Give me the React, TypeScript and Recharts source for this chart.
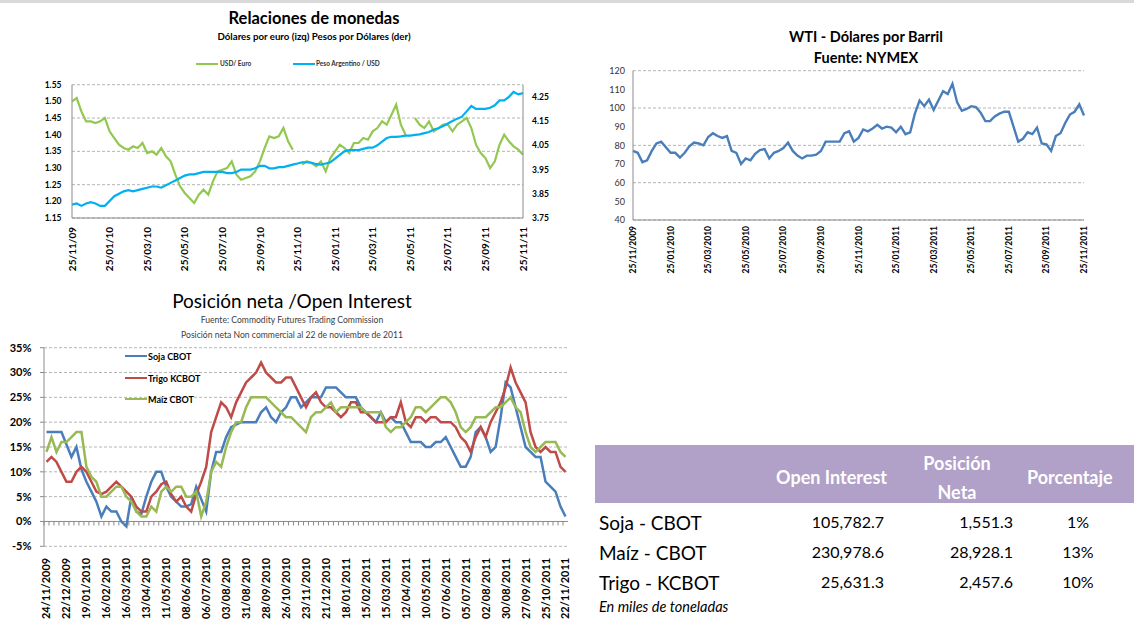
import React from "react";
import {
  LineChart,
  ComposedChart,
  Line,
  Scatter,
  XAxis,
  YAxis,
  CartesianGrid,
  ReferenceLine,
} from "recharts";

const FONT = "Lato, 'Liberation Sans', sans-serif";

// Relaciones de monedas: 4 readings per month, 25/11/09 .. 25/11/11
const fxMonthLabels = [
  "25/11/09", "25/01/10", "25/03/10", "25/05/10", "25/07/10", "25/09/10", "25/11/10",
  "25/01/11", "25/03/11", "25/05/11", "25/07/11", "25/09/11", "25/11/11",
];
const usdEuro = [
  1.5, 1.51, 1.47, 1.44, 1.44, 1.435, 1.44, 1.45, 1.41, 1.39,
  1.37, 1.36, 1.355, 1.365, 1.36, 1.375, 1.345, 1.35, 1.34, 1.36,
  1.335, 1.32, 1.28, 1.245, 1.225, 1.21, 1.195, 1.22, 1.235, 1.22,
  1.26, 1.29, 1.295, 1.3, 1.32, 1.28, 1.265, 1.27, 1.275, 1.29,
  1.32, 1.36, 1.395, 1.39, 1.395, 1.42, 1.38, 1.355, null, 1.31,
  1.32, 1.315, 1.305, 1.32, 1.29, 1.33, 1.35, 1.37, 1.36, 1.345,
  1.375, 1.375, 1.39, 1.385, 1.41, 1.42, 1.44, 1.43, 1.46, 1.49,
  1.43, 1.4, null, 1.45, 1.43, 1.42, 1.44, 1.41, 1.42, 1.43,
  1.43, 1.41, 1.43, 1.44, 1.45, 1.42, 1.37, 1.345, 1.33, 1.3,
  1.32, 1.37, 1.4, 1.38, 1.365, 1.355, 1.34,
];
const pesoUsd = [
  3.805, 3.81, 3.8, 3.81, 3.815, 3.81, 3.8, 3.8, 3.82, 3.84,
  3.85, 3.86, 3.865, 3.86, 3.865, 3.87, 3.875, 3.88, 3.88, 3.875,
  3.885, 3.895, 3.905, 3.915, 3.925, 3.93, 3.93, 3.935, 3.94, 3.94,
  3.94, 3.94, 3.94, 3.935, 3.935, 3.94, 3.95, 3.95, 3.95, 3.955,
  3.965, 3.965, 3.955, 3.955, 3.96, 3.96, 3.965, 3.97, 3.975, 3.98,
  3.98, 3.978, 3.972, 3.97, 3.975, 3.98, 3.995, 4.01, 4.025, 4.03,
  4.03, 4.03, 4.035, 4.04, 4.04, 4.05, 4.065, 4.08, 4.085, 4.085,
  4.087, 4.09, 4.09, 4.093, 4.095, 4.1, 4.105, 4.115, 4.12, 4.13,
  4.14, 4.15, 4.16, 4.168, 4.19, 4.212, 4.2, 4.2, 4.2, 4.205,
  4.215, 4.235, 4.235, 4.25, 4.27, 4.26, 4.265,
];
const euroTicks = [1.15, 1.2, 1.25, 1.3, 1.35, 1.4, 1.45, 1.5, 1.55];
const pesoTicks = [3.75, 3.85, 3.95, 4.05, 4.15, 4.25];

// WTI
const wtiMonthLabels = [
  "25/11/2009", "25/01/2010", "25/03/2010", "25/05/2010", "25/07/2010", "25/09/2010", "25/11/2010",
  "25/01/2011", "25/03/2011", "25/05/2011", "25/07/2011", "25/09/2011", "25/11/2011",
];
const wti = [
  77, 76, 71, 72, 77, 81, 82, 79, 76, 76,
  73.5, 76, 79.5, 81.5, 81, 80, 84.5, 86.5, 85, 84,
  85, 77, 76, 70, 73, 72, 75.5, 77.5, 78, 73,
  76, 77, 78.5, 81.5, 77, 74.5, 73, 74.5, 74.5, 75,
  77, 82, 82, 82, 82, 86.5, 87.5, 82, 84, 88.5,
  87.5, 89, 91, 89, 90, 89.5, 87, 90, 86, 87,
  97, 104, 101, 104.5, 99, 104, 109, 107.5, 113, 103,
  98.5, 99.5, 101, 100.5, 97.5, 93, 93, 95.5, 97, 98,
  98, 90, 82, 83.5, 87, 86, 89.5, 81, 80.5, 77,
  85, 86.5, 92, 96.5, 98, 102, 96,
];
const wtiTicks = [40, 50, 60, 70, 80, 90, 100, 110, 120];

// Posición neta / Open Interest (weekly)
const cftcWeekLabels = [
  "24/11/2009", "22/12/2009", "19/01/2010", "16/02/2010", "16/03/2010", "13/04/2010", "11/05/2010",
  "08/06/2010", "06/07/2010", "03/08/2010", "31/08/2010", "28/09/2010", "26/10/2010", "23/11/2010",
  "21/12/2010", "18/01/2011", "15/02/2011", "15/03/2011", "12/04/2011", "10/05/2011", "07/06/2011",
  "05/07/2011", "02/08/2011", "30/08/2011", "27/09/2011", "25/10/2011", "22/11/2011",
];
const sojaCbot = [
  18, 18, 18, 18, 15.5, 13, 15, 10.5, 8, 6,
  4, 1, 3, 2, 2, 0, -1, 5, 2, 1.5,
  5, 8, 10, 10, 7, 5, 4, 3, 3, 3.5,
  7, 4.5, 2, 10, 14, 14, 17, 19, 19.5, 20,
  20, 20, 20, 22, 23, 21, 20, 22, 23, 25,
  25, 23, 24, 25, 25, 25, 27, 27, 27, 26,
  25, 25, 25, 23, 22, 21, 20, 22, 20, 21,
  20, 20, 18, 16, 16, 16, 15, 15, 16, 16,
  17, 15, 13, 11, 11, 13, 18, 19, 17, 14,
  15, 21, 28, 27, 23, 19, 15, 14, 13, 13,
  8, 7, 6, 3, 1,
];
const trigoKcbot = [
  12, 13, 12, 10, 8, 8, 10, 11, 10, 8,
  6, 5.5, 6, 7, 8, 7, 6, 5, 3, 2,
  2, 5, 6, 7.5, 8, 5.5, 4, 5, 3, 2,
  5.5, 8, 11, 18, 21, 24, 23, 21, 24, 26,
  28, 29, 30, 32, 30, 29, 28, 28, 29, 29,
  27, 25, 23, 25, 26, 24, 23, 23, 22, 21,
  22, 24, 24, 22, 22, 21, 20, 20, 20, 21,
  21, 24, 20, 19, 21, 21, 20, 21, 21, 20,
  20, 20, 19, 17, 16, 14, 17, 19, 17, 20,
  22, 24, 27, 31, 28, 26, 24, 18, 15, 14,
  15, 14, 14, 11, 10,
];
const maizCbot = [
  14, 17, 14, 16, 16, 17, 18, 18, 11, 9,
  8, 5, 5, 6, 7, 7, 5, 4, 2, 1,
  1, 3, 2, 6, 7, 6, 7, 7, 5, 5,
  6, 1, 4, 10, 12, 11, 15, 18, 20, 20,
  23, 25, 25, 25, 25, 24, 23, 22, 21, 21,
  20, 19, 18, 21, 22, 22, 23, 24, 22, 23,
  23, 23, 23, 23, 22, 22, 22, 22, 19, 18,
  19, 19, 20, 21, 23, 23, 22, 23, 24, 25,
  25, 24, 22, 19, 18, 19, 21, 21, 21, 22,
  23, 23, 24, 25, 23, 22, 18, 15, 14, 15,
  16, 16, 16, 14, 13,
];
const pctTicks = [-5, 0, 5, 10, 15, 20, 25, 30, 35];

// Table
const tableNames = ["Soja - CBOT", "Maíz - CBOT", "Trigo - KCBOT"];
const openInterest = ["105,782.7", "230,978.6", "25,631.3"];
const netPosition = ["1,551.3", "28,928.1", "2,457.6"];
const percentage = ["1%", "13%", "10%"];

const fxData = usdEuro.map((eur, i) => ({ i, eur, ars: pesoUsd[i] }));
const wtiData = wti.map((price, i) => ({ i, price }));
const cftcData = sojaCbot.map((soja, i) => ({ i, soja, trigo: trigoKcbot[i], maiz: maizCbot[i] }));
const weekMarks = sojaCbot.map((_, i) => ({ i: i - 0.5, zero: 0 }));
const monthTicks = fxMonthLabels.map((_, k) => k * 8);
const weekTicks = cftcWeekLabels.map((_, k) => k * 4);

function rotatedTick(labels: string[], step: number, fontSize: number) {
  return (props: any) => {
    const { x, y, payload } = props;
    const label = labels[Math.round(payload.value / step)];
    return (
      <g transform={`translate(${x},${y})`}>
        <text
          transform="rotate(-90)"
          x={0}
          y={0}
          dy="0.36em"
          textAnchor="end"
          fontSize={fontSize}
          fontWeight={700}
          fontFamily={FONT}
          fill="#000"
        >
          {label}
        </text>
      </g>
    );
  };
}

function Txt({ x, y, w, size, align = "left", weight = 400, color = "#000", italic = false, children }: any) {
  return (
    <div
      style={{
        position: "absolute",
        left: x,
        top: y - size / 2,
        width: w,
        textAlign: align,
        fontSize: size,
        lineHeight: `${size}px`,
        fontWeight: weight,
        color,
        fontStyle: italic ? "italic" : "normal",
        whiteSpace: "nowrap",
      }}
    >
      {children}
    </div>
  );
}

function LegendLine({ x, y, color }: any) {
  return <div style={{ position: "absolute", left: x, top: y - 1.25, width: 22, height: 2.5, background: color }} />;
}

const GRID = "#b5b5b5";
const AXIS = "#8c8c8c";

export default function App() {
  return (
    <div
      style={{
        position: "absolute",
        left: 0,
        top: 0,
        width: 1134,
        height: 621,
        overflow: "hidden",
        background: "#fff",
        fontFamily: FONT,
      }}
    >
      <div style={{ position: "absolute", left: 0, top: 0, width: 1134, height: 3, background: "#d9d9d9" }} />

      {/* Relaciones de monedas */}
      <Txt x={0} y={18.5} w={628} size={16.5} align="center" weight={700}>Relaciones de monedas</Txt>
      <Txt x={0} y={37} w={628} size={9.7} align="center" weight={700}>
        Dólares por euro (izq) Pesos por Dólares (der)
      </Txt>
      <LegendLine x={196} y={64} color="#92C850" />
      <Txt x={220} y={64} w={60} size={6.5} weight={700} color="#333">USD/ Euro</Txt>
      <LegendLine x={293} y={64} color="#00B0F0" />
      <Txt x={316} y={64} w={90} size={6.5} weight={700} color="#333">Peso Argentino / USD</Txt>
      <div style={{ position: "absolute", left: 0, top: 70 }}>
        <LineChart width={580} height={210} data={fxData} margin={{ top: 14.7, right: 7, bottom: 2, left: 0 }}>
          <CartesianGrid vertical={false} stroke={GRID} strokeDasharray="3 2" />
          <XAxis
            type="number"
            dataKey="i"
            domain={[0, 96]}
            ticks={monthTicks}
            interval={0}
            height={60}
            tickSize={6}
            tickMargin={3}
            tickLine={false}
            axisLine={{ stroke: AXIS }}
            tick={rotatedTick(fxMonthLabels, 8, 10)}
          />
          <YAxis
            domain={[1.15, 1.55]}
            ticks={euroTicks}
            width={72}
            tickSize={6}
            tickMargin={4.5}
            tickLine={false}
            axisLine={{ stroke: AXIS }}
            tickFormatter={(v: number) => v.toFixed(2)}
            tick={{ fontSize: 8.5, fontWeight: 700, fill: "#000", fontFamily: FONT }}
          />
          <YAxis
            yAxisId="right"
            orientation="right"
            domain={[3.75, 4.3]}
            ticks={pesoTicks}
            width={50}
            tickSize={6}
            tickMargin={3}
            tickLine={false}
            axisLine={{ stroke: AXIS }}
            tickFormatter={(v: number) => v.toFixed(2)}
            tick={{ fontSize: 8.5, fontWeight: 700, fill: "#000", fontFamily: FONT }}
          />
          <Line dataKey="eur" stroke="#92C850" strokeWidth={2.2} dot={false} isAnimationActive={false} />
          <Line yAxisId="right" dataKey="ars" stroke="#00B0F0" strokeWidth={2.2} dot={false} isAnimationActive={false} />
        </LineChart>
      </div>

      {/* WTI */}
      <Txt x={766} y={37.5} w={200} size={14.5} align="center" weight={700}>WTI - Dólares por Barril</Txt>
      <Txt x={766} y={58.5} w={200} size={14.5} align="center" weight={700}>Fuente: NYMEX</Txt>
      <div style={{ position: "absolute", left: 590, top: 60 }}>
        <LineChart width={544} height={225} data={wtiData} margin={{ top: 10.7, right: 50, bottom: 0, left: 0 }}>
          <CartesianGrid vertical={false} stroke={GRID} strokeDasharray="3 2" />
          <XAxis
            type="number"
            dataKey="i"
            domain={[0, 96]}
            ticks={monthTicks}
            interval={0}
            height={65}
            tickSize={4}
            tickMargin={2}
            tickLine={false}
            axisLine={{ stroke: AXIS }}
            tick={rotatedTick(wtiMonthLabels, 8, 8.5)}
          />
          <YAxis
            domain={[40, 120]}
            ticks={wtiTicks}
            width={43}
            tickSize={6}
            tickMargin={2}
            tickLine={false}
            axisLine={{ stroke: AXIS }}
            tick={{ fontSize: 9, fill: "#333", fontFamily: FONT }}
          />
          <Line dataKey="price" stroke="#4A7EBB" strokeWidth={2.4} dot={false} isAnimationActive={false} />
        </LineChart>
      </div>

      {/* Posición neta / Open Interest */}
      <Txt x={92} y={300} w={400} size={19} align="center">Posición neta /Open Interest</Txt>
      <Txt x={92} y={320.5} w={400} size={8.6} align="center" color="#404040">
        Fuente: Commodity Futures Trading Commission
      </Txt>
      <Txt x={92} y={335.5} w={400} size={8.6} align="center" color="#404040">
        Posición neta Non commercial al 22 de noviembre de 2011
      </Txt>
      <div style={{ position: "absolute", left: 0, top: 340 }}>
        <ComposedChart width={580} height={281} data={cftcData} margin={{ top: 7.7, right: 12, bottom: 0, left: 0 }}>
          <CartesianGrid vertical={false} stroke={GRID} strokeDasharray="3 2" />
          <XAxis
            type="number"
            dataKey="i"
            domain={[-0.5, 104.5]}
            ticks={weekTicks}
            interval={0}
            height={74.7}
            tickSize={8}
            tickMargin={3.5}
            tickLine={false}
            axisLine={false}
            tick={rotatedTick(cftcWeekLabels, 4, 11)}
          />
          <YAxis
            domain={[-5, 35]}
            ticks={pctTicks}
            width={44}
            tickSize={4}
            tickMargin={8.5}
            tickLine={{ stroke: AXIS }}
            axisLine={{ stroke: AXIS }}
            tickFormatter={(v: number) => `${v}%`}
            tick={{ fontSize: 11, fontWeight: 700, fill: "#000", fontFamily: FONT }}
          />
          <ReferenceLine y={0} stroke={AXIS} />
          <Scatter
            data={weekMarks}
            dataKey="zero"
            isAnimationActive={false}
            shape={(p: any) => <line x1={p.cx} x2={p.cx} y1={p.cy} y2={p.cy + 4} stroke={AXIS} strokeWidth={1} />}
          />
          <Line dataKey="soja" stroke="#4A7EBB" strokeWidth={2.5} dot={false} isAnimationActive={false} />
          <Line dataKey="trigo" stroke="#BE4B48" strokeWidth={2.5} dot={false} isAnimationActive={false} />
          <Line dataKey="maiz" stroke="#98B954" strokeWidth={2.5} dot={false} isAnimationActive={false} />
        </ComposedChart>
      </div>
      <LegendLine x={125} y={356} color="#4A7EBB" />
      <Txt x={148} y={356} w={80} size={9} weight={700}>Soja CBOT</Txt>
      <LegendLine x={125} y={378} color="#BE4B48" />
      <Txt x={148} y={378} w={80} size={9} weight={700}>Trigo KCBOT</Txt>
      <LegendLine x={125} y={399} color="#98B954" />
      <Txt x={148} y={399} w={80} size={9} weight={700}>Maíz CBOT</Txt>

      {/* Tabla */}
      <div style={{ position: "absolute", left: 595, top: 445, width: 539, height: 58, background: "#B1A0C7" }} />
      <Txt x={717} y={477} w={170} size={18} align="right" weight={700} color="#fff">Open Interest</Txt>
      <Txt x={897} y={463} w={120} size={18} align="center" weight={700} color="#fff">Posición</Txt>
      <Txt x={897} y={492} w={120} size={18} align="center" weight={700} color="#fff">Neta</Txt>
      <Txt x={1027} y={477} w={120} size={18} weight={700} color="#fff">Porcentaje</Txt>
      {tableNames.map((name, r) => (
        <React.Fragment key={name}>
          <Txt x={599} y={522 + r * 30} w={150} size={19}>{name}</Txt>
          <Txt x={764} y={522 + r * 30} w={120} size={16} align="right">{openInterest[r]}</Txt>
          <Txt x={893} y={522 + r * 30} w={120} size={16} align="right">{netPosition[r]}</Txt>
          <Txt x={1038} y={522 + r * 30} w={80} size={16} align="center">{percentage[r]}</Txt>
        </React.Fragment>
      ))}
      <Txt x={599} y={607} w={200} size={14.5} italic>En miles de toneladas</Txt>
    </div>
  );
}
